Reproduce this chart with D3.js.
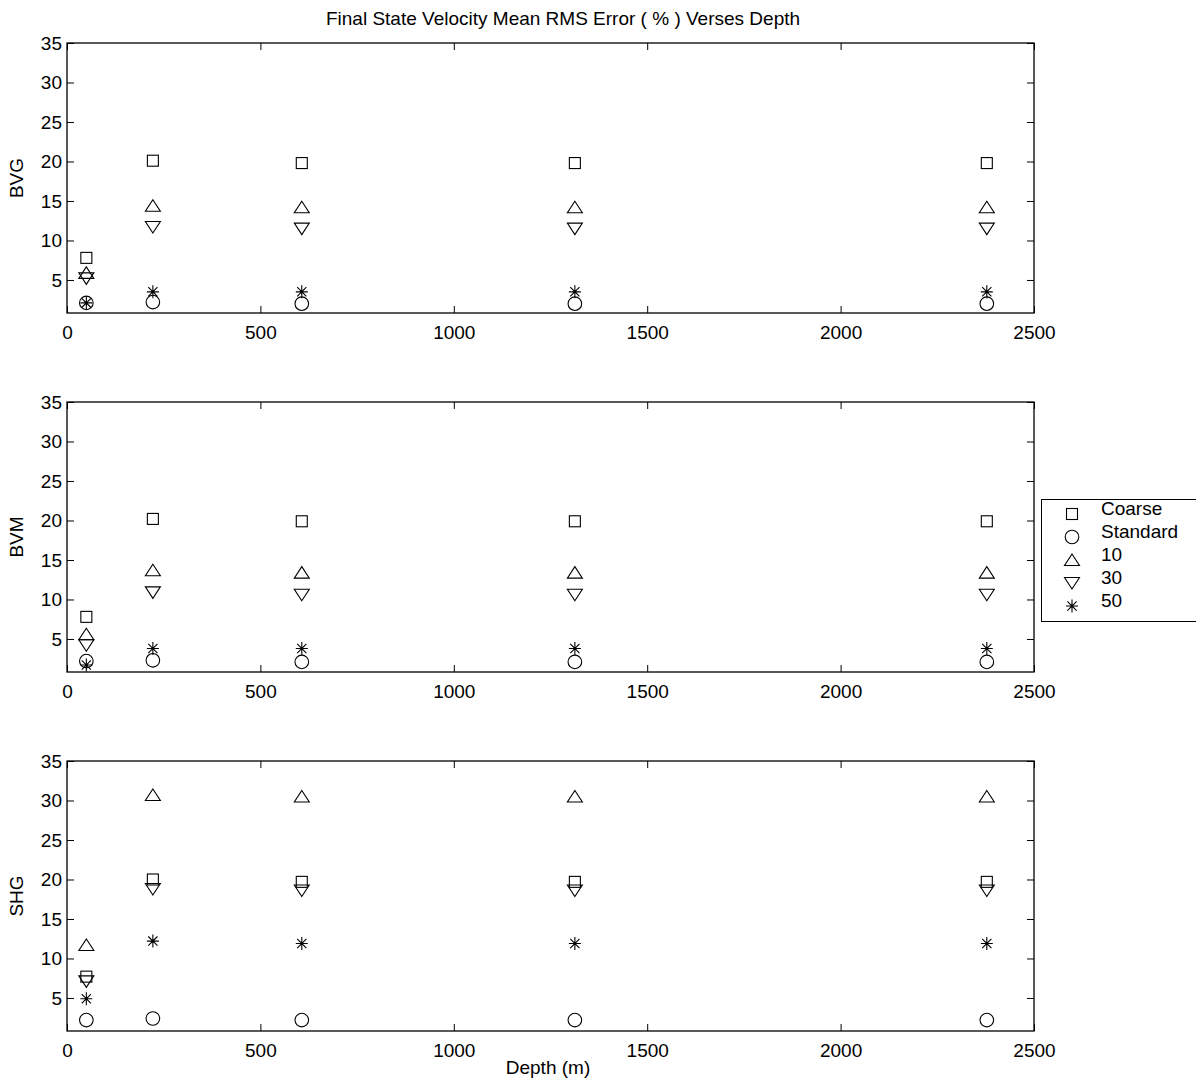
<!DOCTYPE html>
<html><head><meta charset="utf-8">
<script src="https://cdn.jsdelivr.net/npm/d3@7"></script>
<style>body{margin:0;background:#fff}svg{display:block;font-family:"Liberation Sans",Arial,sans-serif}</style>
</head><body>
<script>
const depths = [50, 222, 607, 1313, 2378];
const seriesNames = ["Coarse", "Standard", "10", "30", "50"];
const panelNames = ["BVG", "BVM", "SHG"];
const bvgCoarse = [7.8, 20.1, 19.8, 19.8, 19.8];
const bvgStandard = [2.1, 2.2, 2.0, 2.0, 2.0];
const bvg10 = [5.9, 14.4, 14.2, 14.2, 14.2];
const bvg30 = [5.2, 11.7, 11.5, 11.5, 11.5];
const bvg50 = [2.1, 3.5, 3.5, 3.5, 3.5];
const bvmCoarse = [7.8, 20.2, 19.9, 19.9, 19.9];
const bvmStandard = [2.2, 2.3, 2.1, 2.1, 2.1];
const bvm10 = [5.6, 13.7, 13.4, 13.4, 13.4];
const bvm30 = [4.2, 10.9, 10.6, 10.6, 10.6];
const bvm50 = [1.7, 3.8, 3.8, 3.8, 3.8];
const shgCoarse = [7.7, 20.0, 19.7, 19.7, 19.7];
const shgStandard = [2.2, 2.4, 2.2, 2.2, 2.2];
const shg10 = [11.7, 30.7, 30.5, 30.5, 30.5];
const shg30 = [7.1, 18.8, 18.6, 18.6, 18.6];
const shg50 = [4.9, 12.2, 11.9, 11.9, 11.9];
const xTicks = [0, 500, 1000, 1500, 2000, 2500];
const yTicks = [5, 10, 15, 20, 25, 30, 35];
const panelData = [
  [bvgCoarse, bvgStandard, bvg10, bvg30, bvg50],
  [bvmCoarse, bvmStandard, bvm10, bvm30, bvm50],
  [shgCoarse, shgStandard, shg10, shg30, shg50]
];

const FS = 19;
const W = 1196, H = 1080;
const svg = d3.select("body").append("svg").attr("width", W).attr("height", H);
const left = 67, right = 1034;
const tops = [43, 402, 761], ph = 270;
const x = d3.scaleLinear().domain([0, 2500]).range([left, right]);

function marker(g, type, cx, cy) {
  const s = g.append("g").attr("transform", `translate(${cx},${cy})`)
    .attr("fill", "none").attr("stroke", "#000").attr("stroke-width", 1.1);
  if (type === 0) s.append("rect").attr("x", -5.5).attr("y", -5.5).attr("width", 11).attr("height", 11);
  else if (type === 1) s.append("circle").attr("r", 6.8);
  else if (type === 2) s.append("path").attr("d", "M0,-6L7.5,5.5L-7.5,5.5Z");
  else if (type === 3) s.append("path").attr("d", "M0,6L7.5,-5.5L-7.5,-5.5Z");
  else {
    s.append("path").attr("d", "M-6,0H6M0,-6.5V6.5M-4.6,-4.6L4.6,4.6M-4.6,4.6L4.6,-4.6");
    s.append("circle").attr("r", 1.3).attr("fill", "#000").attr("stroke", "none");
  }
}

svg.append("text").attr("x", 563).attr("y", 25).attr("text-anchor", "middle")
  .attr("font-size", FS).text("Final State Velocity Mean RMS Error ( % ) Verses Depth");

panelData.forEach((series, p) => {
  const top = tops[p], bot = top + ph;
  const y = d3.scaleLinear().domain([0.82, 35]).range([bot, top]);
  const g = svg.append("g");
  g.append("rect").attr("x", left).attr("y", top).attr("width", right - left).attr("height", bot - top)
    .attr("fill", "none").attr("stroke", "#000").attr("stroke-width", 1.3);
  const ax = d3.axisBottom(x).tickValues(xTicks).tickFormat(d3.format("d")).tickSizeInner(-7).tickSizeOuter(0).tickPadding(13);
  const gx = g.append("g").attr("transform", `translate(0,${bot})`).call(ax);
  const gxt = g.append("g").attr("transform", `translate(0,${top})`).call(d3.axisTop(x).tickValues(xTicks).tickSizeInner(-7).tickSizeOuter(0).tickFormat(""));
  const ay = d3.axisLeft(y).tickValues(yTicks).tickSizeInner(-7).tickSizeOuter(0).tickPadding(12);
  const gy = g.append("g").attr("transform", `translate(${left},0)`).call(ay);
  const gyr = g.append("g").attr("transform", `translate(${right},0)`).call(d3.axisRight(y).tickValues(yTicks).tickSizeInner(-7).tickSizeOuter(0).tickFormat(""));
  [gx, gxt, gy, gyr].forEach(a => {
    a.attr("font-size", FS).attr("font-family", '"Liberation Sans",Arial,sans-serif');
    a.select(".domain").remove();
    a.selectAll("line").attr("stroke", "#000");
    a.selectAll("text").attr("fill", "#000");
  });
  gy.selectAll("text").attr("x", -5);
  g.append("text").attr("transform", `translate(23,${(top + bot) / 2}) rotate(-90)`)
    .attr("text-anchor", "middle").attr("font-size", FS).text(panelNames[p]);
  series.forEach((vals, s) => {
    vals.forEach((v, i) => marker(g, s, x(depths[i]), y(v)));
  });
});

svg.append("text").attr("x", 548).attr("y", 1074).attr("text-anchor", "middle")
  .attr("font-size", FS).text("Depth (m)");

const lg = svg.append("g");
lg.append("rect").attr("x", 1041.5).attr("y", 499.5).attr("width", 160).attr("height", 122)
  .attr("fill", "#fff").attr("stroke", "#000").attr("stroke-width", 1);
seriesNames.forEach((n, i) => {
  const yy = 514 + i * 23;
  marker(lg, i, 1072, yy);
  lg.append("text").attr("x", 1101).attr("y", yy + 1).attr("font-size", FS).text(n);
});
</script>
</body></html>
